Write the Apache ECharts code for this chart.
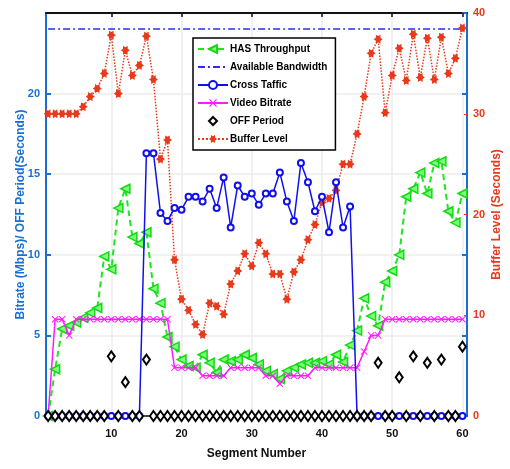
<!DOCTYPE html>
<html>
<head>
<meta charset="utf-8">
<script src="https://cdn.jsdelivr.net/npm/echarts@6/dist/echarts.min.js"></script>
<style>
  html, body { margin: 0; padding: 0; background: #fff; }
  #chart { width: 510px; height: 469px; }
</style>
</head>
<body>
<div id="chart"></div>
<script>
// segment numbers (x axis)
var segs = [1, 2, 3, 4, 5, 6, 7, 8, 9, 10, 11, 12, 13, 14, 15, 16, 17, 18, 19, 20,
            21, 22, 23, 24, 25, 26, 27, 28, 29, 30, 31, 32, 33, 34, 35, 36, 37, 38, 39, 40,
            41, 42, 43, 44, 45, 46, 47, 48, 49, 50, 51, 52, 53, 54, 55, 56, 57, 58, 59, 60];
var xTicks = [10, 20, 30, 40, 50, 60];

// HAS throughput (Mbps)
var hasThroughput = [0, 2.9, 5.4, 5.6, 5.8, 6.1, 6.4, 6.7, 9.9, 9.1,
                     12.9, 14.1, 11.1, 10.7, 11.4, 7.9, 7.0, 4.9, 4.3, 3.5,
                     3.1, 3.0, 3.8, 3.3, 2.7, 3.5, 3.4, 3.5, 3.8, 3.6,
                     3.2, 2.8, 2.6, 2.3, 2.8, 3.0, 3.2, 3.3, 3.3, 3.4,
                     3.2, 3.8, 3.35, 4.4, 5.3, 7.3, 6.2, 5.6, 8.3, 9.0,
                     10.0, 13.6, 14.1, 15.1, 13.8, 15.7, 15.8, 12.7, 12.0, 13.8];

// available bandwidth (constant)
var bandwidthSegs = [1, 60];
var bandwidth = [24, 24];

// cross traffic (Mbps)
var crossTraffic = [0, 0, 0, 0, 0, 0, 0, 0, 0, 0, 0, 0, 0, 0,
                    16.3, 16.3, 12.6, 12.1, 12.9, 12.8, 13.6, 13.6, 13.3, 14.1,
                    12.9, 14.8, 11.7, 14.3, 13.6, 13.8, 13.1, 13.8, 13.8, 15.1,
                    13.3, 12.1, 15.7, 14.5, 12.7, 13.6, 11.4, 14.5, 11.7, 13.0,
                    0, 0, 0, 0, 0, 0, 0, 0, 0, 0, 0, 0, 0, 0, 0, 0];

// video bitrate (Mbps)
var videoBitrate = [0, 6, 6, 5, 6, 6, 6, 6, 6, 6, 6, 6, 6, 6, 6, 6, 6, 6,
                    3, 3, 3, 3, 2.5, 2.5, 2.5, 2.5, 3, 3, 3, 3, 3, 2.5, 2.5, 2,
                    2.5, 2.5, 2.5, 2.5, 3, 3, 3, 3, 3, 3, 3, 4, 5, 5,
                    6, 6, 6, 6, 6, 6, 6, 6, 6, 6, 6, 6];

// OFF period (seconds)
var offPeriod = [0, 0, 0, 0, 0, 0, 0, 0, 0, 3.7, 0, 2.1, 0, 0, 3.5, 0, 0, 0, 0, 0,
                 0, 0, 0, 0, 0, 0, 0, 0, 0, 0, 0, 0, 0, 0, 0, 0, 0, 0, 0, 0,
                 0, 0, 0, 0, 0, 0, 0, 3.3, 0, 0, 2.4, 0, 3.7, 0, 3.3, 0, 3.5, 0, 0, 4.3];

// buffer level (seconds, right axis)
var bufferLevel = [30, 30, 30, 30, 30, 30.7, 31.7, 32.5, 34, 37.8,
                   32, 36.3, 33.8, 34.8, 37.7, 33.4, 25.5, 27.4, 15.5, 11.6,
                   10.5, 9.1, 8.1, 11.2, 10.9, 10.1, 13.1, 14.4, 16.1, 14.9,
                   17.2, 16.1, 14.1, 14.1, 11.6, 14.3, 15.5, 17.5, 19, 21.2,
                   21.6, 22.4, 25.0, 25.0, 28.0, 31.7, 36.0, 37.4, 30.1, 33.8,
                   36.5, 33.3, 37.9, 33.6, 37.5, 33.4, 37.6, 34.0, 35.5, 38.5];

function pairs(xs, ys) {
    return xs.map(function (x, i) { return [x, ys[i]]; });
}

var FONT = 'Liberation Sans';
var LEFT_BLUE = '#1a6fd6';
var RIGHT_RED = '#e8391a';
var xSymbol = 'path://M0,1L1,0L5,4L9,0L10,1L6,5L10,9L9,10L5,6L1,10L0,9L4,5Z';
var starSymbol = 'path://M10,5L7.6,6.5L7.5,9.33L5,8L2.5,9.33L2.4,6.5L0,5L2.4,3.5L2.5,0.67L5,2L7.5,0.67L7.6,3.5Z';

var chart = echarts.init(document.getElementById('chart'));

var option = {
    animation: false,
    textStyle: { fontFamily: FONT },
    grid: { left: 46, right: 43, top: 13, bottom: 53, containLabel: false, outerBoundsMode: 'none' },
    legend: {
        orient: 'vertical',
        left: 193,
        top: 38,
        padding: [6, 8, 6, 4],
        itemGap: 8,
        itemWidth: 30,
        itemHeight: 10,
        borderColor: '#000',
        borderWidth: 1.5,
        backgroundColor: '#fff',
        textStyle: { fontFamily: FONT, fontSize: 10, fontWeight: 'bold', color: '#000', padding: [0, 0, 0, -3] },
        data: ['HAS Throughput', 'Available Bandwidth', 'Cross Taffic', 'Video Bitrate', 'OFF Period', 'Buffer Level']
    },
    xAxis: [
        {
            type: 'value',
            position: 'bottom',
            min: 0.7,
            max: 60.65,
            name: 'Segment Number',
            nameLocation: 'middle',
            nameGap: 32,
            nameTextStyle: { fontFamily: FONT, fontSize: 12, fontWeight: 'bold', color: '#111' },
            axisLine: { show: true, onZero: false, lineStyle: { color: '#111', width: 1.5 } },
            axisTick: { show: true, inside: true, length: 4, customValues: xTicks, lineStyle: { color: '#111', width: 1.5 } },
            axisLabel: { customValues: xTicks, fontFamily: FONT, fontSize: 11, fontWeight: 'bold', color: '#111', margin: 12 },
            splitLine: { show: true, lineStyle: { color: '#ececec', width: 1.5 } }
        },
        {
            type: 'value',
            position: 'top',
            min: 0.7,
            max: 60.65,
            axisLine: { show: true, onZero: false, lineStyle: { color: '#111', width: 2 } },
            axisTick: { show: true, inside: true, length: 4, customValues: xTicks, lineStyle: { color: '#111', width: 1.5 } },
            axisLabel: { show: false },
            splitLine: { show: false }
        }
    ],
    yAxis: [
        {
            type: 'value',
            position: 'left',
            min: 0,
            max: 25,
            interval: 5,
            name: 'Bitrate (Mbps)/ OFF Period(Seconds)',
            nameLocation: 'middle',
            nameGap: 19,
            nameMoveOverlap: false,
            nameTextStyle: { fontFamily: FONT, fontSize: 12, fontWeight: 'bold', color: LEFT_BLUE },
            axisLine: { show: true, onZero: false, lineStyle: { color: LEFT_BLUE, width: 2 } },
            axisTick: { show: true, inside: true, length: 5, lineStyle: { color: LEFT_BLUE, width: 2 } },
            axisLabel: { fontFamily: FONT, fontSize: 11, fontWeight: 'bold', color: LEFT_BLUE, margin: 6, showMaxLabel: false },
            splitLine: { show: true, lineStyle: { color: '#ececec', width: 1.5 } }
        },
        {
            type: 'value',
            position: 'right',
            min: 0,
            max: 40,
            interval: 10,
            name: 'Buffer Level (Seconds)',
            nameLocation: 'middle',
            nameGap: 24,
            nameMoveOverlap: false,
            nameRotate: 90,
            nameTextStyle: { fontFamily: FONT, fontSize: 12, fontWeight: 'bold', color: RIGHT_RED },
            axisLine: { show: true, onZero: false, lineStyle: { color: LEFT_BLUE, width: 2 } },
            axisTick: { show: true, inside: true, length: 3, lineStyle: { color: RIGHT_RED, width: 1 } },
            axisLabel: { fontFamily: FONT, fontSize: 11, fontWeight: 'bold', color: RIGHT_RED, margin: 6 },
            splitLine: { show: false }
        },
        {
            // mirror of the left axis ticks on the right border
            type: 'value',
            position: 'right',
            min: 0,
            max: 25,
            interval: 5,
            axisLine: { show: false },
            axisTick: { show: true, inside: true, length: 5, lineStyle: { color: LEFT_BLUE, width: 2 } },
            axisLabel: { show: false },
            splitLine: { show: false }
        }
    ],
    series: [
        {
            name: 'Available Bandwidth',
            type: 'line',
            xAxisIndex: 0,
            yAxisIndex: 0,
            data: pairs(bandwidthSegs, bandwidth),
            symbol: 'circle',
            showSymbol: false,
            lineStyle: { color: '#2b2bff', width: 1.5, type: [7, 3, 2, 3] },
            itemStyle: { color: '#2b2bff', opacity: 0 },
            z: 2
        },
        {
            name: 'Buffer Level',
            type: 'line',
            xAxisIndex: 0,
            yAxisIndex: 1,
            data: pairs(segs, bufferLevel),
            symbol: starSymbol,
            symbolSize: 9,
            lineStyle: { color: RIGHT_RED, width: 1.5, type: 'dotted' },
            itemStyle: { color: RIGHT_RED },
            z: 3
        },
        {
            name: 'HAS Throughput',
            type: 'line',
            xAxisIndex: 0,
            yAxisIndex: 0,
            data: pairs(segs, hasThroughput),
            symbol: 'triangle',
            symbolRotate: 90,
            symbolSize: 9,
            lineStyle: { color: '#1ee61e', width: 2, type: [6, 4] },
            itemStyle: { color: '#7dff7d', borderColor: '#12d912', borderWidth: 1.5 },
            z: 4
        },
        {
            name: 'Video Bitrate',
            type: 'line',
            xAxisIndex: 0,
            yAxisIndex: 0,
            data: pairs(segs, videoBitrate),
            symbol: xSymbol,
            symbolSize: 7,
            lineStyle: { color: '#ff1aff', width: 1.5 },
            itemStyle: { color: '#ff1aff' },
            z: 5
        },
        {
            name: 'Cross Taffic',
            type: 'line',
            xAxisIndex: 0,
            yAxisIndex: 0,
            data: pairs(segs, crossTraffic),
            symbol: 'emptyCircle',
            symbolSize: 6,
            lineStyle: { color: '#1010ee', width: 1.5 },
            itemStyle: { color: '#1010ee', borderWidth: 1.5 },
            z: 6
        },
        {
            name: 'OFF Period',
            type: 'line',
            xAxisIndex: 0,
            yAxisIndex: 0,
            data: pairs(segs, offPeriod),
            symbol: 'emptyDiamond',
            symbolSize: [7, 10],
            lineStyle: { opacity: 0, width: 0 },
            itemStyle: { color: '#000', borderColor: '#000', borderWidth: 2 },
            z: 7
        }
    ]
};

chart.setOption(option);
</script>
</body>
</html>
